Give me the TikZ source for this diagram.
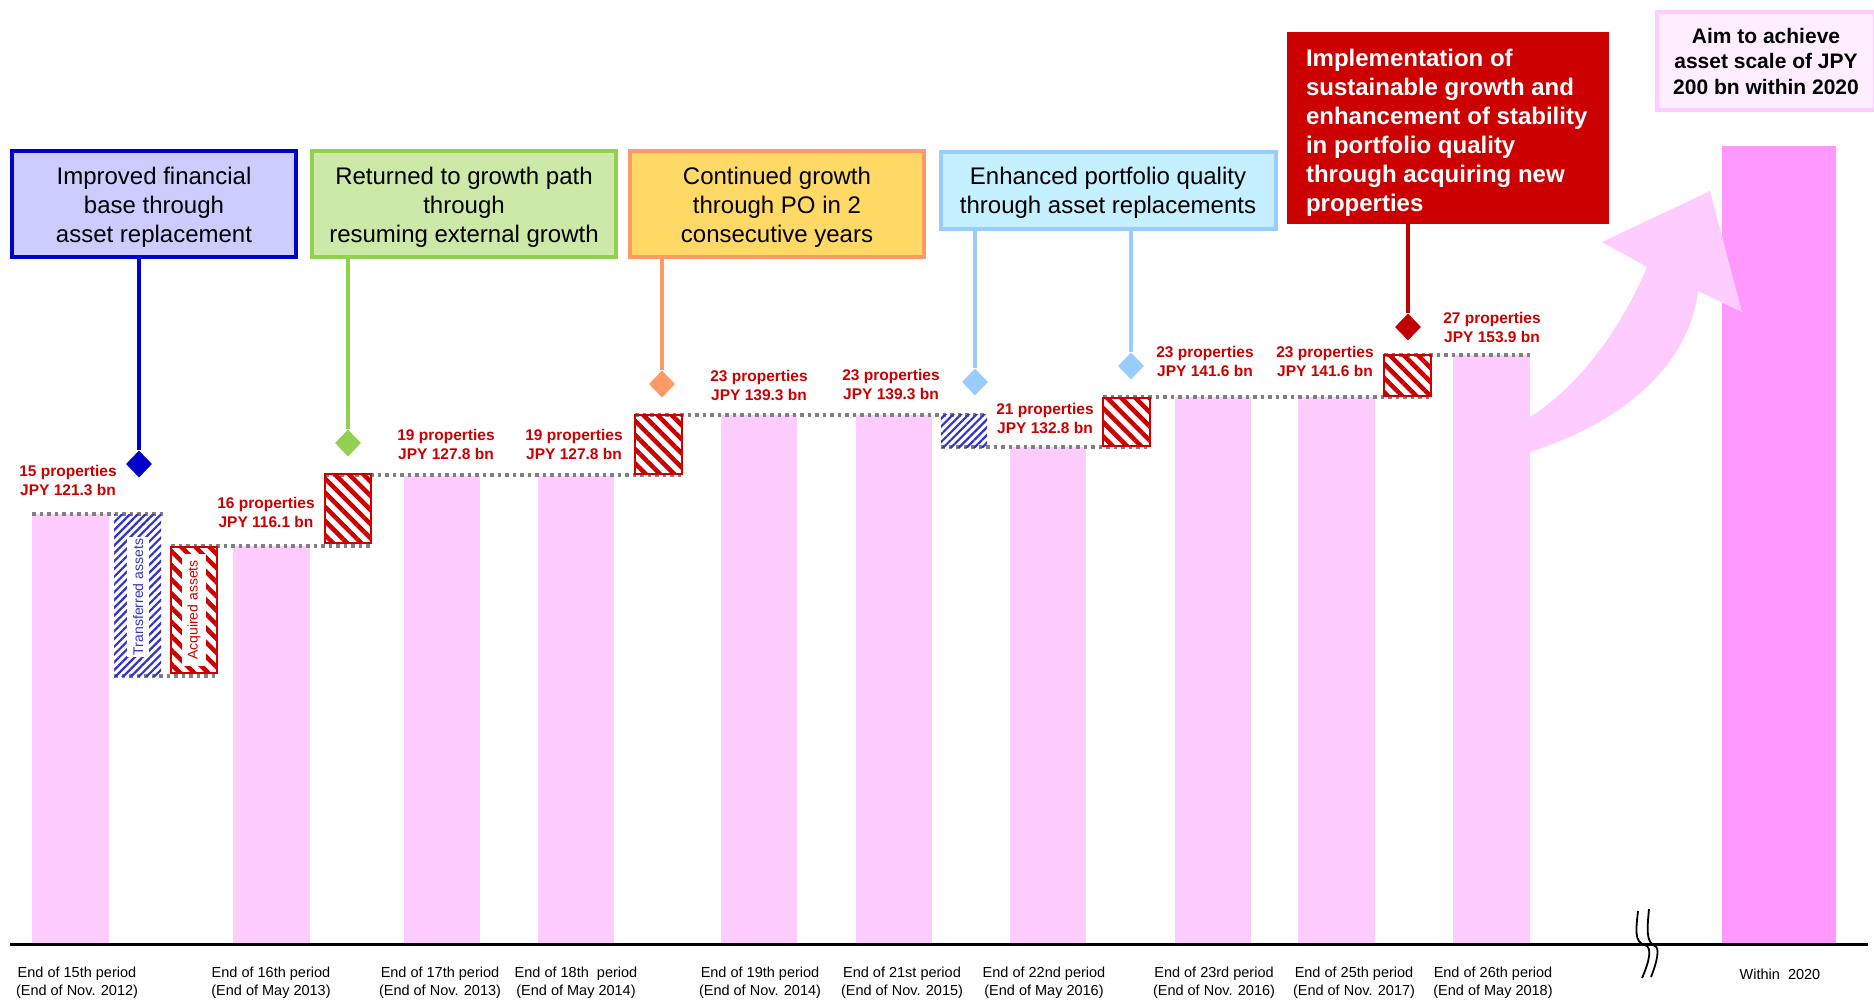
\documentclass[tikz,border=0pt]{standalone}
\usepackage{fontspec}
\setmainfont{Liberation Sans}
\usetikzlibrary{shapes.geometric,patterns.meta}
\definecolor{barpink}{HTML}{FFCCFF}
\definecolor{goalpink}{HTML}{FF99FF}
\definecolor{aimfill}{HTML}{FFEEFF}
\definecolor{lblred}{HTML}{CC0000}
\definecolor{pinred}{HTML}{C00000}
\definecolor{dotgray}{HTML}{808080}
\definecolor{hatchblue}{HTML}{3333CC}
\definecolor{navy}{HTML}{0000CC}
\definecolor{lavender}{HTML}{CCCCFF}
\definecolor{leaf}{HTML}{92D050}
\definecolor{leaffill}{HTML}{CDE9A8}
\definecolor{peach}{HTML}{FF9966}
\definecolor{sunfill}{HTML}{FFD966}
\definecolor{sky}{HTML}{99CCFF}
\definecolor{skyfill}{HTML}{C5F0FF}
\begin{document}
\begin{tikzpicture}[x=1pt,y=-1pt,
    lvl/.style={dotgray,line width=3.5pt,dash pattern=on 3.5pt off 4pt},
    acq/.style={draw=lblred,line width=2.5pt,pattern={Lines[angle=-45,distance=10pt,line width=4.5pt]},pattern color=lblred},
    trf/.style={pattern={Lines[angle=45,distance=5.5pt,line width=2.2pt]},pattern color=hatchblue},
    tag/.style={fill=white,rotate=90,inner xsep=2pt,inner ysep=5.5pt,font=\fontsize{14}{16}\selectfont},
    amount/.style={text=lblred,font=\bfseries\fontsize{15.5}{19}\selectfont,align=center},
    period/.style={font=\fontsize{14.5}{18}\selectfont,align=center},
    theme/.style={line width=4pt,inner sep=0pt},
    themetext/.style={font=\fontsize{24}{29}\selectfont,align=center},
    pin/.style={diamond,minimum width=26pt,minimum height=27pt,inner sep=0pt},
    stem/.style={line width=4pt}]
\useasboundingbox (0,0) rectangle (1874,1002);
\foreach \l/\r/\t in {32/109/514,233/310/546,404/480/476,538/614/476,721/797/415,856/932/415,1010/1086/447,1175/1251/397,1298/1375/397,1453/1530/355}
    \fill[barpink] (\l,\t) rectangle (\r,944);
\fill[goalpink] (1722,146) rectangle (1836,944);
\fill[barpink] (1530,417) .. controls (1580,385) and (1620,330) .. (1647,267) -- (1602,242) -- (1710,191)
    -- (1742,312) -- (1698,291) .. controls (1690,360) and (1630,420) .. (1530,452) -- cycle;
\draw[line width=3pt] (10,944) -- (1868,944);
\draw[line width=1.8pt] (1638,911) .. controls (1636,930) and (1634,942) .. (1645,945) .. controls (1652,947) and (1650,960) .. (1642,978);
\draw[line width=1.8pt] (1649,909) .. controls (1647,930) and (1646,942) .. (1655,946) .. controls (1660,948) and (1657,962) .. (1651,977);
% level lines and changes
\draw[lvl] (32,514) -- (163,514) (114,676) -- (217,676) (171,546) -- (370,546) (325,475) -- (682,475)
    (635,415) -- (987,415) (941,447) -- (1150,447) (1103,397) -- (1433,397) (1384,355) -- (1530,355);
\fill[trf] (114,514) rectangle (161,676);
\node[tag,text=hatchblue] (trfText) at (138,597) {Transferred assets};
\draw[acq] (171,547) rectangle (217,673);
\node[tag,text=lblred,minimum width=112pt] (acqText) at (194,610) {Acquired assets};
\draw[acq] (325,474) rectangle (371,543);
\draw[acq] (635,415) rectangle (682,474);
\fill[trf] (941,414) rectangle (987,447);
\draw[acq] (1103,398) rectangle (1150,446);
\draw[acq] (1384,355) rectangle (1431,396);
% amounts
\node[amount] (a15) at (68,480) {15 properties\\JPY 121.3 bn};
\node[amount] (a16) at (266,512) {16 properties\\JPY 116.1 bn};
\node[amount] (a17) at (446,444) {19 properties\\JPY 127.8 bn};
\node[amount] (a18) at (574,444) {19 properties\\JPY 127.8 bn};
\node[amount] (a19) at (759,385) {23 properties\\JPY 139.3 bn};
\node[amount] (a21) at (891,384) {23 properties\\JPY 139.3 bn};
\node[amount] (a22) at (1045,418) {21 properties\\JPY 132.8 bn};
\node[amount] (a23) at (1205,361) {23 properties\\JPY 141.6 bn};
\node[amount] (a25) at (1325,361) {23 properties\\JPY 141.6 bn};
\node[amount] (a26) at (1492,327) {27 properties\\JPY 153.9 bn};
% periods
\node[period] (p15) at (77,983) {End of 15th period\\(End of Nov. 2012)};
\node[period] (p16) at (271,983) {End of 16th period\\(End of May 2013)};
\node[period] (p17) at (440,983) {End of 17th period\\(End of Nov. 2013)};
\node[period] (p18) at (576,983) {End of 18th\ \ period\\(End of May 2014)};
\node[period] (p19) at (760,983) {End of 19th period\\(End of Nov. 2014)};
\node[period] (p21) at (902,983) {End of 21st period\\(End of Nov. 2015)};
\node[period] (p22) at (1044,983) {End of 22nd period\\(End of May 2016)};
\node[period] (p23) at (1214,983) {End of 23rd period\\(End of Nov. 2016)};
\node[period] (p25) at (1354,983) {End of 25th period\\(End of Nov. 2017)};
\node[period] (p26) at (1493,983) {End of 26th period\\(End of May 2018)};
\node[period] (p2020) at (1780,974) {Within\ \ 2020};
% themes
\node[theme,draw=navy,fill=lavender,minimum width=284pt,minimum height=106pt] (tA) at (154,204) {};
\node[themetext] at ([yshift=-3pt]tA.center) {Improved financial\\base through\\asset replacement};
\node[theme,draw=leaf,fill=leaffill,minimum width=304pt,minimum height=106pt] (tB) at (464,204) {};
\node[themetext] at ([yshift=-3pt]tB.center) {Returned to growth path\\through\\resuming external growth};
\node[theme,draw=peach,fill=sunfill,minimum width=294pt,minimum height=106pt] (tC) at (777,204) {};
\node[themetext] at ([yshift=-3pt]tC.center) {Continued growth\\through PO in 2\\consecutive years};
\node[theme,draw=sky,fill=skyfill,minimum width=335pt,minimum height=77pt] (tD) at (1108,190) {};
\node[themetext] at ([yshift=-3pt]tD.center) {Enhanced portfolio quality\\through asset replacements};
\node[fill=lblred,minimum width=322pt,minimum height=192pt,inner sep=0pt] (tE) at (1448,128) {};
\node[anchor=west,text=white,font=\bfseries\fontsize{24}{29}\selectfont,align=left,inner sep=0pt] at ([xshift=19pt,yshift=-5pt]tE.west)
    {Implementation of\\sustainable growth and\\enhancement of stability\\in portfolio quality\\through acquiring new\\properties};
\node[draw=barpink,line width=4.5pt,fill=aimfill,font=\bfseries\fontsize{21}{25.5}\selectfont,align=center,minimum width=218pt,minimum height=98pt,inner sep=0pt] (aim) at (1766,61)
    {Aim to achieve\\asset scale of JPY\\200 bn within 2020};
% pins
\node[pin,fill=navy] (pA) at (139,464) {};
\node[pin,fill=leaf] (pB) at (348,443) {};
\node[pin,fill=peach] (pC) at (662,384) {};
\node[pin,fill=sky] (pD1) at (975,382) {};
\node[pin,fill=sky] (pD2) at (1131,366) {};
\node[pin,fill=pinred] (pE) at (1408,327) {};
\draw[stem,navy] (pA |- tA.south) -- (pA.north);
\draw[stem,leaf] (pB |- tB.south) -- (pB.north);
\draw[stem,peach] (pC |- tC.south) -- (pC.north);
\draw[stem,sky] (pD1 |- tD.south) -- (pD1.north);
\draw[stem,sky] (pD2 |- tD.south) -- (pD2.north);
\draw[stem,pinred] (pE |- tE.south) -- (pE.north);
\end{tikzpicture}
\end{document}
